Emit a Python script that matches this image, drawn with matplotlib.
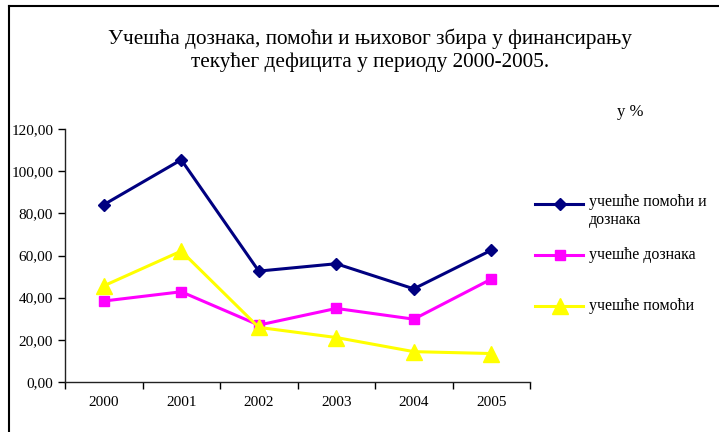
import matplotlib.pyplot as plt
from matplotlib.lines import Line2D
from matplotlib.ticker import FuncFormatter

plt.rcParams['font.family'] = ['Liberation Serif', 'DejaVu Serif']

# ================= DATA =================
years = ['2000', '2001', '2002', '2003', '2004', '2005']
total = [84.1, 105.4, 52.6, 56.1, 44.2, 62.5]        # учешће помоћи и дознака
remit = [38.4, 42.8, 27.0, 34.9, 29.8, 48.8]         # учешће дознака
aid = [45.6, 62.1, 25.9, 21.1, 14.4, 13.5]           # учешће помоћи
yticks = [0, 20, 40, 60, 80, 100, 120]

labels = ['учешће помоћи и\nдознака', 'учешће дознака', 'учешће помоћи']
colors = ['#000080', '#FF00FF', '#FFFF00']
markers = ['D', 's', '^']
msizes = [6.5, 7.5, 11]

W, H = 719, 432
fig = plt.figure(figsize=(W / 100, H / 100), dpi=100)


def fx(px):
    return px / W


def fy(py):
    return 1 - py / H


ax = fig.add_axes([fx(65), fy(382), fx(530) - fx(65), fy(129) - fy(382)])

x = list(range(len(years)))
for vals, c, m, ms in zip([total, remit, aid], colors, markers, msizes):
    ax.plot(x, vals, color=c, lw=2.2, marker=m, ms=ms, mec=c, mfc=c, clip_on=False)

ax.set_xlim(-0.5, len(years) - 0.5)
ax.set_ylim(0, 120)
ax.set_yticks(yticks)
ax.yaxis.set_major_formatter(FuncFormatter(lambda v, p: f"{v:.2f}".replace('.', ',')))

# category axis: ticks between categories, labels centred
ax.set_xticks([i - 0.5 for i in range(len(years) + 1)])
ax.set_xticklabels([])
ax.set_xticks(x, minor=True)
ax.set_xticklabels(years, minor=True)
ax.tick_params(axis='x', which='major', length=5, width=1, direction='out')
ax.tick_params(axis='x', which='minor', length=0, pad=10, labelsize=11)
ax.tick_params(axis='y', length=5, width=1, direction='out', pad=3.5, labelsize=11)

for s in ['top', 'right']:
    ax.spines[s].set_visible(False)
for s in ['left', 'bottom']:
    ax.spines[s].set_linewidth(1)
    ax.spines[s].set_color('#222222')

# ================= TITLE / UNITS =================
fig.text(fx(370), fy(39), 'Учешћа дознака, помоћи и њиховог збира у финансирању',
         ha='center', va='center', fontsize=15.3)
fig.text(fx(370), fy(62), 'текућег дефицита у периоду 2000-2005.',
         ha='center', va='center', fontsize=15.3)
fig.text(fx(617), fy(112), 'у %', ha='left', va='center', fontsize=12)

# ================= LEGEND =================
leg_y = [204, 255, 306]
for lab, c, m, ms, yy in zip(labels, colors, markers, msizes, leg_y):
    fig.add_artist(Line2D([fx(535), fx(583)], [fy(yy), fy(yy)], color=c, lw=2.2))
    fig.add_artist(Line2D([fx(560)], [fy(yy)], color=c, marker=m, ms=ms, mec=c, mfc=c))
    if '\n' in lab:
        fig.text(fx(589), fy(yy - 10), lab, ha='left', va='top', fontsize=11.5, linespacing=1.2)
    else:
        fig.text(fx(589), fy(yy), lab, ha='left', va='center', fontsize=11.5)

# outer frame (top and left edges visible)
fig.add_artist(Line2D([fx(9), 1.0], [fy(5.5), fy(5.5)], color='black', lw=1.5))
fig.add_artist(Line2D([fx(9), fx(9)], [fy(5.5), 0.0], color='black', lw=1.5))

plt.savefig("out.png", dpi=100)
plt.close()
